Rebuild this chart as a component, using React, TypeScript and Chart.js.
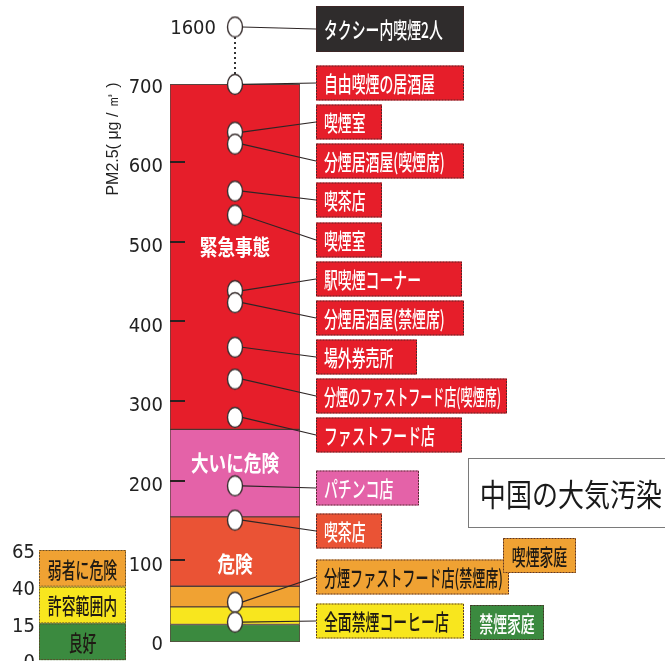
import React, { useEffect, useRef } from 'react';
import { Chart, registerables } from 'chart.js';

Chart.register(...registerables);

// ---------- data ----------
const BAND_NAMES = ['良好', '許容範囲内', '弱者に危険', '危険', '大いに危険', '緊急事態'];
const BAND_BOUNDS = [0, 22, 44, 70, 157, 267, 700];
const BAND_COLORS = ['#3b8a3f', '#f8e61e', '#f0a233', '#ea5335', '#e462a8', '#e61e2a'];
const BAND_LABEL_AT = [null, null, null, 100, 226, 498];

const AXIS_TICKS = [0, 100, 200, 300, 400, 500, 600, 700];
const AXIS_BREAK_VALUE = 1600;
const AXIS_BREAK_POS = 772;

const PLACE_NAMES = [
  'タクシー内喫煙2人',
  '自由喫煙の居酒屋',
  '喫煙室',
  '分煙居酒屋(喫煙席)',
  '喫茶店',
  '喫煙室',
  '駅喫煙コーナー',
  '分煙居酒屋(禁煙席)',
  '場外券売所',
  '分煙のファストフード店(喫煙席)',
  'ファストフード店',
  'パチンコ店',
  '喫茶店',
  '分煙ファストフード店(禁煙席)',
  '全面禁煙コーヒー店',
];
const PLACE_VALUES = [1600, 700, 640, 625, 566, 536, 441, 426, 370, 330, 282, 196, 153, 50, 25];

const HOME_NAMES = ['喫煙家庭', '禁煙家庭'];
const HOME_BANDS = [2, 0];

const LEGEND_BOUNDS = [0, 15, 40, 65];
const LEGEND_NAMES = ['良好', '許容範囲内', '弱者に危険'];

const AXIS_TITLE = 'PM2.5( μg / ㎥ )';
const NOTE_TEXT = '中国の大気汚染';

// ---------- layout (pixels) ----------
const ROW_Y = [29, 83, 122, 161, 200, 240, 279, 318, 357, 396, 435, 488, 531, 577, 621];
const ROW_W = [148, 148, 66, 148, 66, 66, 146, 148, 101, 191, 146, 103, 66, 193, 148];
const ROW_H = [46, 35, 35, 35, 35, 35, 35, 35, 35, 35, 35, 35, 35, 35, 35];
const ROW_X = 316;
const HOME_BOX = [
  { x: 503, y: 538, w: 73, h: 35 },
  { x: 470, y: 605, w: 74, h: 35 },
];

const JP = "'Noto Sans CJK JP', 'Noto Sans', sans-serif";
const NUM = "'Liberation Sans Narrow', 'DejaVu Sans Condensed', 'Liberation Sans', sans-serif";
const BOX_FONT = 22;
const BOX_SCALE = 0.63;

function bandOf(v: number): number {
  if (v > BAND_BOUNDS[BAND_BOUNDS.length - 1]) return -1;
  for (let i = 0; i < BAND_NAMES.length; i++) {
    if (v >= BAND_BOUNDS[i] && v < BAND_BOUNDS[i + 1]) return i;
  }
  return BAND_NAMES.length - 1;
}

function axisPos(v: number): number {
  return v > AXIS_TICKS[AXIS_TICKS.length - 1] ? AXIS_BREAK_POS : v;
}

function drawText(
  ctx: CanvasRenderingContext2D,
  text: string,
  x: number,
  y: number,
  size: number,
  weight: string,
  color: string,
  scaleX: number,
  align: 'left' | 'center' | 'right' = 'left',
  family: string = JP,
  maxW: number = Infinity
) {
  ctx.save();
  ctx.font = `${weight} ${size}px ${family}`;
  ctx.fillStyle = color;
  ctx.textBaseline = 'middle';
  ctx.textAlign = 'left';
  const natural = ctx.measureText(text).width;
  const sx = Math.min(scaleX, maxW / natural);
  ctx.translate(x, y);
  ctx.scale(sx, 1);
  const dx = align === 'left' ? 0 : align === 'center' ? -natural / 2 : -natural;
  ctx.fillText(text, dx, 1);
  ctx.restore();
}

function box(ctx: CanvasRenderingContext2D, x: number, y: number, w: number, h: number, fill: string, stroke = 'rgba(70,35,35,0.85)') {
  ctx.save();
  ctx.fillStyle = fill;
  ctx.fillRect(x, y, w, h);
  ctx.strokeStyle = stroke;
  ctx.lineWidth = 1;
  ctx.setLineDash([2, 1]);
  ctx.strokeRect(x + 0.5, y + 0.5, w - 1, h - 1);
  ctx.restore();
}

function makePointImage(): HTMLCanvasElement {
  const c = document.createElement('canvas');
  c.width = 18;
  c.height = 23;
  const g = c.getContext('2d')!;
  g.beginPath();
  g.ellipse(9, 11.5, 7.5, 10, 0, 0, Math.PI * 2);
  g.fillStyle = '#ffffff';
  g.fill();
  g.lineWidth = 1.4;
  g.strokeStyle = '#3a3030';
  g.stroke();
  return c;
}

const overlayPlugin = {
  id: 'overlay',
  beforeDatasetsDraw(chart: any) {
    const { ctx, scales } = chart;
    const ys = scales.y;
    const cx = scales.x.getPixelForValue(0);
    ctx.save();
    ctx.strokeStyle = '#333';
    ctx.lineWidth = 2;
    ctx.setLineDash([2, 3]);
    ctx.beginPath();
    ctx.moveTo(cx, ys.getPixelForValue(AXIS_BREAK_POS) + 10);
    ctx.lineTo(cx, ys.getPixelForValue(AXIS_TICKS[AXIS_TICKS.length - 1]) - 10);
    ctx.stroke();
    ctx.restore();
  },
  afterDatasetsDraw(chart: any) {
    const { ctx, chartArea, scales } = chart;
    const ys = scales.y;
    const cx = scales.x.getPixelForValue(0);

    // tick dashes inside the bar
    ctx.save();
    ctx.strokeStyle = '#2a2020';
    ctx.lineWidth = 2;
    AXIS_TICKS.forEach((t) => {
      if (t === AXIS_TICKS[0] || t === AXIS_TICKS[AXIS_TICKS.length - 1]) return;
      const py = Math.round(ys.getPixelForValue(t)) - 2;
      ctx.beginPath();
      ctx.moveTo(chartArea.left, py);
      ctx.lineTo(chartArea.left + 15, py);
      ctx.stroke();
    });
    ctx.restore();

    // band names
    BAND_NAMES.forEach((name, i) => {
      const at = BAND_LABEL_AT[i];
      if (at == null) return;
      drawText(ctx, name, cx, ys.getPixelForValue(at), 22, 'bold', '#ffffff', 0.8, 'center');
    });

    // top (broken axis) value label
    drawText(ctx, String(AXIS_BREAK_VALUE), cx - 19, ys.getPixelForValue(AXIS_BREAK_POS) + 1, 20, 'normal', '#222', 1, 'right', NUM);

    // connectors
    ctx.save();
    ctx.strokeStyle = '#2e2626';
    ctx.lineWidth = 1.2;
    PLACE_VALUES.forEach((v, i) => {
      const py = ys.getPixelForValue(axisPos(v));
      ctx.beginPath();
      ctx.moveTo(cx + 7, py);
      ctx.lineTo(ROW_X, ROW_Y[i]);
      ctx.stroke();
    });
    ctx.restore();

    // label boxes
    PLACE_NAMES.forEach((name, i) => {
      const b = bandOf(PLACE_VALUES[i]);
      const fill = b < 0 ? '#2f2c2c' : BAND_COLORS[b];
      const txt = b === 1 || b === 2 ? '#1f1a14' : '#ffffff';
      const top = ROW_Y[i] - ROW_H[i] / 2;
      box(ctx, ROW_X, top, ROW_W[i], ROW_H[i], fill);
      drawText(ctx, name, ROW_X + 8, ROW_Y[i], BOX_FONT, '500', txt, BOX_SCALE, 'left', JP, ROW_W[i] - 14);
    });

    HOME_NAMES.forEach((name, i) => {
      const b = HOME_BANDS[i];
      const r = HOME_BOX[i];
      box(ctx, r.x, r.y, r.w, r.h, BAND_COLORS[b]);
      const txt = b === 1 || b === 2 ? '#1f1a14' : '#ffffff';
      drawText(ctx, name, r.x + r.w / 2, r.y + r.h / 2, BOX_FONT, '500', txt, BOX_SCALE, 'center');
    });

    // note box
    ctx.save();
    ctx.fillStyle = '#fff';
    ctx.fillRect(468, 458, 200, 70);
    ctx.strokeStyle = '#7a7a7a';
    ctx.lineWidth = 1;
    ctx.strokeRect(468.5, 458.5, 200, 69);
    ctx.restore();
    drawText(ctx, NOTE_TEXT, 571, 493, 31, 'normal', '#1a1a1a', 0.84, 'center');

    // axis title
    ctx.save();
    ctx.translate(114, 139);
    ctx.rotate(-Math.PI / 2);
    ctx.font = `normal 16px 'Liberation Sans', sans-serif`;
    ctx.fillStyle = '#222';
    ctx.textAlign = 'center';
    ctx.textBaseline = 'middle';
    ctx.fillText(AXIS_TITLE, 0, 0);
    ctx.restore();

    // mini legend
    const lx = 39;
    const lw = 87;
    const lTop = 550;
    const lRow = 36.7;
    const n = LEGEND_NAMES.length;
    for (let k = 0; k < n; k++) {
      const i = n - 1 - k;
      const top = lTop + k * lRow;
      box(ctx, lx, top, lw, lRow, BAND_COLORS[i], 'rgba(90,70,40,0.9)');
      drawText(ctx, LEGEND_NAMES[i], lx + lw / 2, top + lRow / 2, BOX_FONT, '500', '#1f1a14', BOX_SCALE, 'center');
    }
    for (let k = 0; k <= n; k++) {
      const val = LEGEND_BOUNDS[n - k];
      drawText(ctx, String(val), 35, lTop + k * lRow + 2, 20, 'normal', '#222', 1, 'right', NUM);
    }
  },
};

export default function App() {
  const ref = useRef<HTMLCanvasElement | null>(null);

  useEffect(() => {
    if (!ref.current) return;
    const pointImg = makePointImage();
    const bandSets = BAND_NAMES.map((name, i) => ({
      type: 'bar' as const,
      label: name,
      data: [[BAND_BOUNDS[i], BAND_BOUNDS[i + 1]]],
      backgroundColor: BAND_COLORS[i],
      borderColor: 'rgba(60,35,30,0.85)',
      borderWidth: 1,
      borderSkipped: false,
      barPercentage: 1,
      categoryPercentage: 1,
      order: 2,
    }));
    const pointSet = {
      type: 'line' as const,
      label: 'PM2.5',
      data: PLACE_VALUES.map((v) => ({ x: 0, y: axisPos(v) })),
      showLine: false,
      pointStyle: pointImg,
      pointRadius: 9,
      clip: false,
      order: 0,
    };
    const chart = new Chart(ref.current, {
      type: 'bar',
      data: { labels: ['PM2.5'], datasets: [...bandSets, pointSet] as any },
      plugins: [overlayPlugin],
      options: {
        responsive: false,
        animation: false,
        devicePixelRatio: 1,
        layout: { padding: { left: 0, right: 365, top: 27, bottom: 19 } },
        plugins: { legend: { display: false }, tooltip: { enabled: false } },
        scales: {
          x: { display: false, stacked: true },
          y: {
            min: 0,
            max: AXIS_BREAK_POS,
            stacked: false,
            grid: { display: false, drawTicks: false },
            border: { display: false },
            afterFit: (s: any) => {
              s.width = 170;
            },
            afterBuildTicks: (s: any) => {
              s.ticks = AXIS_TICKS.map((v) => ({ value: v }));
            },
            ticks: {
              padding: 7,
              labelOffset: 3,
              color: '#222',
              font: { family: NUM, size: 20 },
              callback: (v: any) => String(v),
            },
          },
        },
      } as any,
    });
    return () => chart.destroy();
  }, []);

  return (
    <div style={{ position: 'absolute', left: 0, top: 0, width: 665, height: 661, background: '#fff' }}>
      <canvas ref={ref} width={665} height={661} style={{ display: 'block' }} />
    </div>
  );
}
